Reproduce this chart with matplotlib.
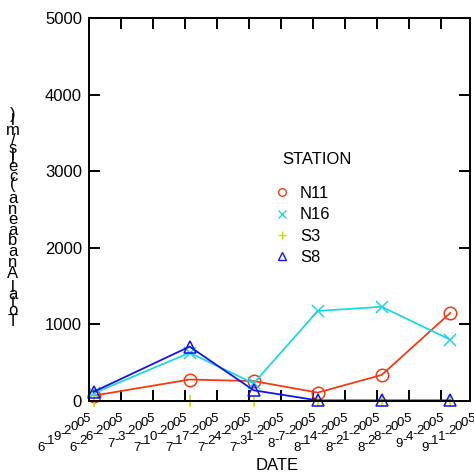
import numpy as np
import pandas as pd
import matplotlib
matplotlib.use('Agg')
import matplotlib.pyplot as plt
import matplotlib.dates as mdates
from matplotlib.lines import Line2D
from matplotlib.transforms import offset_copy

plt.rcParams['font.family'] = ['Liberation Sans', 'DejaVu Sans']

# sampling dates and Anabaena counts for each station
dates = ['2005-06-20', '2005-07-11', '2005-07-25', '2005-08-08', '2005-08-22', '2005-09-06']
n11 = [70, 280, 260, 110, 340, 1150]
n16 = [100, 630, 230, 1175, 1230, 800]
s3 = [0, 0, 0, 0, 0, 0]
s8 = [120, 710, 140, 8, 8, 8]

stations = ['N11', 'N16', 'S3', 'S8']
series = [n11, n16, s3, s8]
colors = ['#f03c14', '#1ed8e0', '#c8dc00', '#1414e6']
markers = ['o', 'x', '+', '^']

tick_dates = pd.date_range('2005-06-19', '2005-09-11', freq='7D')
tick_labels = ['%d-%d-%d' % (d.month, d.day, d.year) for d in tick_dates]
yticks = [0, 1000, 2000, 3000, 4000, 5000]
ylabel = 'Total Anabaena (cells/ml)'

# arial advance widths (em), used to lay out the odd per-character labels
widths = {' ': .278, '(': .333, ')': .333, '/': .278, '-': .333, 'A': .667,
          'T': .611, 'a': .556, 'b': .556, 'c': .5, 'e': .556, 'l': .222,
          'm': .833, 'n': .556, 'o': .556, 's': .5, 't': .278}
for k in '0123456789':
    widths[k] = .556

W = 474
fig = plt.figure(figsize=(4.74, 4.74), dpi=100)
ax = fig.add_axes([89/W, 1 - 401/W, (470 - 89)/W, (401 - 18)/W])

x = pd.to_datetime(dates)
for vals, c, m, lab in zip(series, colors, markers, stations):
    ax.plot(x, vals, color=c, marker=m, ms=9, mfc='none', mew=1.1, lw=1.3,
            clip_on=False, label=lab)

x0 = mdates.date2num(pd.Timestamp('2005-06-19'))
ax.set_xlim(x0, x0 + 83.3)
ax.set_ylim(0, 5000)
ax.set_xticks(tick_dates[tick_dates <= pd.Timestamp('2005-09-10')])
ax.set_yticks(yticks)
ax.tick_params(axis='both', direction='in', length=8, width=1.4, top=True,
               right=True, labelbottom=False, labelsize=12, pad=5)
for sp in ax.spines.values():
    sp.set_linewidth(1.4)

# x tick labels: upright characters stepped along a slanted baseline
ang = np.radians(32)
x_em = 13.5
for d, lab in zip(tick_dates, tick_labels):
    ws = np.array([widths[ch] for ch in lab])
    mid = np.cumsum(ws) - ws/2
    back = mid[-1] - mid
    for ch, b in zip(lab, back):
        tr = offset_copy(ax.get_xaxis_transform(), fig=fig,
                         x=-2.5 - b*x_em*np.cos(ang),
                         y=-21 - b*x_em*np.sin(ang), units='dots')
        ax.text(mdates.date2num(d), 0, ch, transform=tr, ha='center',
                va='baseline', fontsize=9.5, clip_on=False)

fig.text(277/W, 1 - 466/W, 'DATE', ha='center', va='center', fontsize=12)

# y label: upright characters stacked bottom to top
ws = np.array([widths[ch] for ch in ylabel])
mid = np.cumsum(ws) - ws/2
ypix = 322 - (mid - mid[0]) * (322 - 115) / (mid[-1] - mid[0])
for ch, yp in zip(ylabel, ypix):
    fig.text(13/W, 1 - yp/W, ch, ha='center', va='center', fontsize=12)

# legend: title set apart, rows below it
fig.text(282/W, 1 - 160/W, 'STATION', ha='left', va='center', fontsize=12)
handles = [Line2D([], [], ls='none', marker=m, color=c, mfc='none', ms=5.5, mew=1.0)
           for c, m in zip(colors, markers)]
ax.legend(handles, stations, loc='upper left',
          bbox_to_anchor=((280 - 89)/381, (401 - 186)/383), frameon=False,
          borderpad=0, borderaxespad=0, handlelength=0.2, handletextpad=1.0,
          labelspacing=0.38, fontsize=12)

fig.savefig('out.png', dpi=100)
